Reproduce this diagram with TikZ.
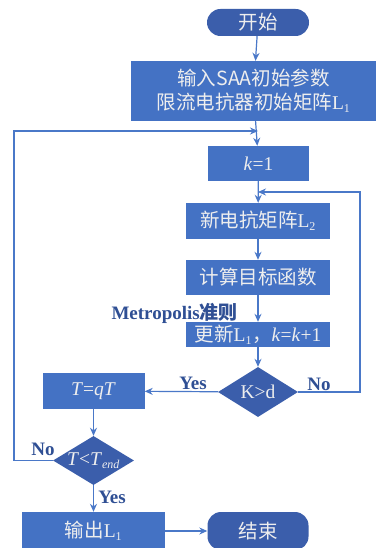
\documentclass[tikz,border=0pt]{standalone}
\usepackage{fontspec}
\setmainfont{Liberation Serif}
\newfontfamily\cjk{Noto Sans CJK SC}
\usetikzlibrary{arrows.meta,shapes.geometric}
\definecolor{boxblue}{HTML}{4472C4}
\definecolor{termblue}{HTML}{3B5EAB}
\definecolor{lineblue}{HTML}{4A78C8}
\definecolor{txtw}{HTML}{EEEEEE}
\definecolor{lblblue}{HTML}{2F4F94}
\tikzset{
  procbox/.style={fill=boxblue, text=txtw, inner sep=0pt, font=\fontsize{19.5}{23}\selectfont},
  termbox/.style={fill=termblue, text=txtw, rounded corners=13.5pt, inner sep=0pt, font=\fontsize{19.5}{23}\selectfont},
  decbox/.style={diamond, fill=termblue, text=txtw, inner sep=0pt, aspect=1.6, font=\fontsize{19.5}{23}\selectfont},
  conn/.style={draw=lineblue, line width=1.2pt, -{Stealth[length=8pt,width=7pt]}},
  lbl/.style={text=lblblue, font=\bfseries\fontsize{19}{22}\selectfont, inner sep=1pt}
}
\newcommand{\subsc}[1]{\textsubscript{\fontsize{12}{12}\selectfont #1}}
\begin{document}
\begin{tikzpicture}[x=1pt,y=-1pt]
\useasboundingbox (0,0) rectangle (376,548);
% nodes
\node[termbox, minimum width=102pt, minimum height=27pt] (start) at (258,22.5) {\cjk 开始};
\node[procbox, minimum width=245pt, minimum height=60pt, align=center] (init) at (253.5,91)
  {\cjk 输入SAA初始参数\\[1pt]{\cjk 限流电抗器初始矩阵}L\subsc{1}};
\node[procbox, minimum width=101pt, minimum height=35pt] (k1) at (258.5,163.5) {\textit{k}=1};
\node[procbox, minimum width=144pt, minimum height=36pt] (newL) at (258,221) {{\cjk 新电抗矩阵}L\subsc{2}};
\node[procbox, minimum width=144pt, minimum height=35pt] (calc) at (258,277.5) {\cjk 计算目标函数};
\node[procbox, minimum width=144pt, minimum height=25pt] (upd) at (258,334.5) {{\cjk 更新}L\subsc{1}{\cjk ，}\textit{k}=\textit{k}+1};
\node[decbox, minimum width=80pt, minimum height=50pt] (kd) at (258,392) {K>d};
\node[procbox, minimum width=102pt, minimum height=36pt] (tq) at (93.5,391) {\textit{T}=\textit{qT}};
\node[decbox, minimum width=81pt, minimum height=47pt] (tt) at (93.5,460.5) {\textit{T}<\textit{T}\subsc{\textit{end}}};
\node[procbox, minimum width=143pt, minimum height=38pt] (out) at (93.5,531) {{\cjk 输出}L\subsc{1}};
\node[termbox, minimum width=101pt, minimum height=38pt] (stop) at (258,531) {\cjk 结束};
% labels
\node[lbl, anchor=east] (metro) at (239,313) {Metropolis{\cjk 准则}};
\node[lbl] (yes1) at (193,383) {Yes};
\node[lbl] (no1) at (319,384) {No};
\node[lbl] (no2) at (43,449) {No};
\node[lbl] (yes2) at (112,497) {Yes};
% helper coordinates
\coordinate (j1) at (258,131);
\coordinate (j2) at (258,192);
\coordinate (rc) at (360,192);
\coordinate (lc) at (14,131);
% connectors
\draw[conn] (start) -- (init);
\draw[conn] (init) -- (k1);
\draw[conn] (k1) -- (newL);
\draw[conn] (newL) -- (calc);
\draw[conn] (calc) -- (upd);
\draw[conn] (upd) -- (kd);
\draw[conn] (kd) -- (tq);
\draw[conn] (kd.east) -| (rc) -- (j2);
\draw[conn] (tq) -- (tt);
\draw[conn] (tt.west) -| (lc) -- (j1);
\draw[conn] (tt) -- (out);
\draw[conn] (out) -- (stop);
\end{tikzpicture}
\end{document}
